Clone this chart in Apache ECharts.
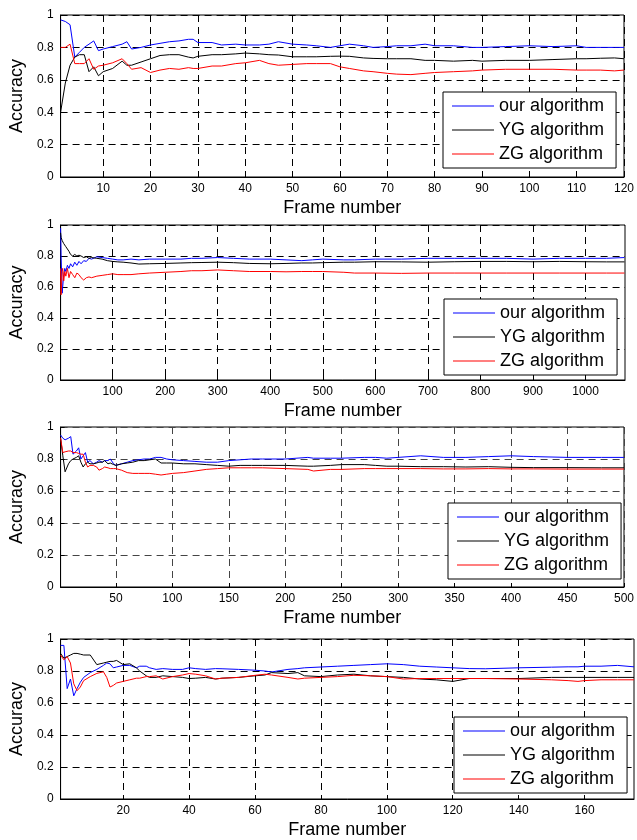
<!DOCTYPE html>
<html>
<head>
<meta charset="utf-8">
<script src="https://cdn.jsdelivr.net/npm/echarts@6/dist/echarts.min.js"></script>
<style>
  html, body { margin: 0; padding: 0; background: #fff; }
  #chart { width: 637px; height: 840px; }
</style>
</head>
<body>
<div id="chart"></div>
<script>
// series names
const seriesNames = ["our algorithm", "YG algorithm", "ZG algorithm"];
const yTicks = [0, 0.2, 0.4, 0.6, 0.8, 1];

// panel 1 : 120 frames
const p1Frames = [1, 2, 3, 4, 5, 6, 7, 8, 9, 10, 12, 14, 15, 16, 18, 20, 22, 24, 26, 28, 29, 30, 33, 35, 38, 40, 43, 45, 47, 50, 53, 55, 58, 60, 62, 65, 67, 70, 72, 75, 78, 80, 84, 88, 90, 95, 100, 105, 110, 112, 115, 118, 120];
const p1Ours = [0.97, 0.96, 0.94, 0.74, 0.77, 0.80, 0.82, 0.84, 0.78, 0.79, 0.805, 0.82, 0.835, 0.79, 0.80, 0.815, 0.825, 0.835, 0.84, 0.85, 0.85, 0.83, 0.83, 0.815, 0.82, 0.815, 0.815, 0.82, 0.835, 0.82, 0.815, 0.81, 0.80, 0.81, 0.82, 0.81, 0.80, 0.805, 0.81, 0.81, 0.82, 0.81, 0.81, 0.80, 0.80, 0.805, 0.81, 0.805, 0.81, 0.80, 0.80, 0.80, 0.80];
const p1YG = [0.40, 0.58, 0.69, 0.74, 0.755, 0.755, 0.65, 0.68, 0.625, 0.65, 0.67, 0.715, 0.69, 0.69, 0.71, 0.73, 0.75, 0.755, 0.755, 0.74, 0.735, 0.745, 0.755, 0.755, 0.76, 0.765, 0.76, 0.755, 0.753, 0.742, 0.742, 0.742, 0.745, 0.746, 0.745, 0.735, 0.732, 0.73, 0.73, 0.73, 0.72, 0.72, 0.715, 0.72, 0.715, 0.72, 0.72, 0.725, 0.73, 0.73, 0.733, 0.735, 0.73];
const p1ZG = [0.80, 0.80, 0.82, 0.70, 0.70, 0.70, 0.73, 0.665, 0.685, 0.69, 0.705, 0.73, 0.70, 0.665, 0.675, 0.645, 0.66, 0.67, 0.665, 0.675, 0.67, 0.67, 0.685, 0.685, 0.70, 0.705, 0.72, 0.70, 0.69, 0.695, 0.70, 0.70, 0.70, 0.68, 0.67, 0.655, 0.65, 0.64, 0.635, 0.632, 0.64, 0.645, 0.65, 0.655, 0.66, 0.665, 0.665, 0.665, 0.66, 0.66, 0.66, 0.655, 0.66];
const p1XTicks = [10, 20, 30, 40, 50, 60, 70, 80, 90, 100, 110, 120];

// panel 2 : 1074 frames
const p2Frames = [1, 2, 4, 5, 7, 9, 11, 14, 17, 20, 24, 28, 32, 36, 40, 45, 50, 55, 60, 70, 80, 90, 100, 110, 120, 135, 150, 170, 200, 230, 250, 270, 300, 330, 360, 400, 430, 460, 480, 500, 540, 560, 600, 650, 700, 750, 800, 850, 900, 950, 1000, 1040, 1074];
const p2Ours = [0.98, 0.80, 0.56, 0.55, 0.68, 0.72, 0.70, 0.74, 0.72, 0.75, 0.73, 0.76, 0.74, 0.765, 0.75, 0.77, 0.765, 0.785, 0.78, 0.795, 0.79, 0.785, 0.78, 0.775, 0.775, 0.78, 0.775, 0.78, 0.78, 0.78, 0.785, 0.785, 0.79, 0.785, 0.78, 0.78, 0.775, 0.77, 0.775, 0.78, 0.775, 0.775, 0.78, 0.78, 0.785, 0.785, 0.785, 0.785, 0.78, 0.785, 0.785, 0.785, 0.79];
const p2YG = [0.95, 0.92, 0.90, 0.89, 0.88, 0.87, 0.86, 0.85, 0.83, 0.81, 0.80, 0.81, 0.80, 0.805, 0.80, 0.79, 0.795, 0.785, 0.79, 0.785, 0.78, 0.77, 0.765, 0.762, 0.76, 0.755, 0.748, 0.75, 0.752, 0.755, 0.757, 0.758, 0.76, 0.757, 0.752, 0.75, 0.752, 0.755, 0.755, 0.757, 0.76, 0.76, 0.763, 0.762, 0.76, 0.763, 0.765, 0.765, 0.763, 0.765, 0.763, 0.762, 0.762];
const p2ZG = [0.72, 0.55, 0.70, 0.72, 0.64, 0.70, 0.67, 0.72, 0.66, 0.70, 0.68, 0.66, 0.69, 0.68, 0.66, 0.645, 0.66, 0.665, 0.66, 0.67, 0.675, 0.68, 0.685, 0.68, 0.68, 0.68, 0.685, 0.69, 0.695, 0.70, 0.705, 0.705, 0.71, 0.705, 0.70, 0.70, 0.698, 0.70, 0.70, 0.70, 0.695, 0.69, 0.69, 0.688, 0.69, 0.69, 0.69, 0.69, 0.69, 0.69, 0.69, 0.69, 0.69];
const p2XTicks = [100, 200, 300, 400, 500, 600, 700, 800, 900, 1000];

// panel 3 : 500 frames
const p3Frames = [1, 3, 5, 8, 10, 12, 15, 17, 19, 21, 23, 25, 27, 30, 33, 35, 38, 40, 43, 45, 48, 50, 55, 60, 65, 70, 75, 80, 85, 90, 95, 100, 110, 120, 130, 140, 150, 160, 170, 180, 200, 220, 225, 240, 250, 270, 280, 290, 300, 320, 340, 360, 380, 400, 420, 450, 480, 500];
const p3Ours = [0.95, 0.93, 0.92, 0.93, 0.94, 0.83, 0.85, 0.87, 0.80, 0.82, 0.84, 0.78, 0.79, 0.77, 0.78, 0.79, 0.78, 0.79, 0.79, 0.80, 0.77, 0.76, 0.77, 0.78, 0.79, 0.795, 0.80, 0.80, 0.81, 0.81, 0.80, 0.795, 0.79, 0.785, 0.78, 0.78, 0.79, 0.795, 0.80, 0.80, 0.80, 0.81, 0.805, 0.805, 0.805, 0.81, 0.81, 0.805, 0.81, 0.82, 0.81, 0.81, 0.815, 0.82, 0.815, 0.81, 0.81, 0.81];
const p3YG = [0.93, 0.82, 0.72, 0.77, 0.79, 0.80, 0.81, 0.82, 0.78, 0.75, 0.77, 0.78, 0.77, 0.77, 0.775, 0.78, 0.78, 0.79, 0.77, 0.775, 0.765, 0.76, 0.77, 0.775, 0.78, 0.79, 0.79, 0.795, 0.80, 0.775, 0.775, 0.775, 0.77, 0.77, 0.765, 0.76, 0.755, 0.76, 0.76, 0.76, 0.76, 0.755, 0.755, 0.76, 0.765, 0.765, 0.76, 0.755, 0.755, 0.752, 0.752, 0.75, 0.752, 0.748, 0.746, 0.746, 0.745, 0.745];
const p3ZG = [0.93, 0.84, 0.845, 0.85, 0.85, 0.84, 0.84, 0.835, 0.83, 0.83, 0.78, 0.75, 0.76, 0.76, 0.75, 0.73, 0.74, 0.75, 0.745, 0.74, 0.74, 0.74, 0.73, 0.715, 0.71, 0.71, 0.71, 0.71, 0.705, 0.70, 0.705, 0.71, 0.715, 0.725, 0.735, 0.74, 0.745, 0.745, 0.745, 0.745, 0.74, 0.735, 0.725, 0.735, 0.735, 0.74, 0.74, 0.74, 0.74, 0.74, 0.738, 0.738, 0.74, 0.738, 0.738, 0.737, 0.737, 0.737];
const p3XTicks = [50, 100, 150, 200, 250, 300, 350, 400, 450, 500];

// panel 4 : 175 frames
const p4Frames = [1, 2, 3, 4, 5, 6, 7, 8, 10, 12, 14, 15, 16, 17, 18, 20, 22, 24, 25, 27, 28, 30, 32, 35, 38, 40, 42, 45, 48, 50, 55, 60, 63, 65, 70, 73, 75, 80, 85, 90, 95, 100, 105, 110, 115, 120, 125, 130, 140, 150, 155, 158, 160, 165, 170, 175];
const p4Ours = [0.96, 0.96, 0.69, 0.75, 0.645, 0.69, 0.73, 0.76, 0.79, 0.81, 0.835, 0.85, 0.845, 0.82, 0.825, 0.835, 0.835, 0.82, 0.83, 0.83, 0.82, 0.81, 0.815, 0.81, 0.81, 0.82, 0.815, 0.81, 0.815, 0.814, 0.81, 0.805, 0.80, 0.794, 0.81, 0.815, 0.82, 0.825, 0.83, 0.835, 0.84, 0.845, 0.84, 0.83, 0.825, 0.82, 0.815, 0.814, 0.82, 0.824, 0.826, 0.826, 0.83, 0.83, 0.835, 0.826];
const p4YG = [0.91, 0.88, 0.89, 0.90, 0.91, 0.91, 0.905, 0.90, 0.90, 0.84, 0.85, 0.855, 0.86, 0.86, 0.866, 0.84, 0.845, 0.82, 0.80, 0.77, 0.76, 0.76, 0.77, 0.765, 0.76, 0.753, 0.755, 0.76, 0.75, 0.755, 0.76, 0.77, 0.775, 0.79, 0.784, 0.79, 0.77, 0.765, 0.775, 0.78, 0.77, 0.765, 0.76, 0.75, 0.745, 0.735, 0.753, 0.753, 0.753, 0.76, 0.76, 0.76, 0.76, 0.76, 0.76, 0.76];
const p4ZG = [0.90, 0.87, 0.89, 0.85, 0.72, 0.677, 0.70, 0.74, 0.765, 0.785, 0.795, 0.76, 0.70, 0.71, 0.725, 0.735, 0.745, 0.755, 0.755, 0.765, 0.765, 0.77, 0.75, 0.765, 0.775, 0.784, 0.78, 0.77, 0.75, 0.755, 0.76, 0.773, 0.78, 0.775, 0.76, 0.75, 0.755, 0.76, 0.765, 0.773, 0.77, 0.765, 0.75, 0.753, 0.753, 0.753, 0.753, 0.753, 0.75, 0.745, 0.74, 0.735, 0.74, 0.745, 0.745, 0.745];
const p4XTicks = [20, 40, 60, 80, 100, 120, 140, 160];

const panels = [
    { frames: p1Frames, values: [p1Ours, p1YG, p1ZG], ticks: p1XTicks, xMin: 1, xMax: 120 },
    { frames: p2Frames, values: [p2Ours, p2YG, p2ZG], ticks: p2XTicks, xMin: 1, xMax: 1075 },
    { frames: p3Frames, values: [p3Ours, p3YG, p3ZG], ticks: p3XTicks, xMin: 1, xMax: 500 },
    { frames: p4Frames, values: [p4Ours, p4YG, p4ZG], ticks: p4XTicks, xMin: 1, xMax: 175 }
];

// layout of each subplot (pixels)
const gridBoxes = [
    { left: 58, top: 15, width: 566, height: 162 },
    { left: 56, top: 225, width: 569, height: 155 },
    { left: 59, top: 427, width: 567, height: 160 },
    { left: 58, top: 639, width: 576, height: 163 }
];
const legendBoxes = [
    { left: 443, top: 92 },
    { left: 444, top: 299 },
    { left: 448, top: 503 },
    { left: 454, top: 717 }
];
const gridDash = [
    { color: "#000", dash: [7, 5] },
    { color: "#000", dash: [7, 5] },
    { color: "#444", dash: [7, 5] },
    { color: "#000", dash: [7, 5] }
];
const lineColors = ["#0000ff", "#000000", "#ff0000"];
const FONT = "Liberation Sans";

const chart = echarts.init(document.getElementById("chart"), null, { renderer: "canvas" });

const grid = [], xAxis = [], yAxis = [], legend = [], series = [];

panels.forEach((p, i) => {
    grid.push({
        ...gridBoxes[i],
        show: true,
        borderColor: "#000",
        borderWidth: 1,
        backgroundColor: "#fff"
    });

    const splitStyle = { show: true, lineStyle: { color: gridDash[i].color, type: gridDash[i].dash, width: 1 } };

    xAxis.push({
        gridIndex: i,
        type: "value",
        min: p.xMin,
        max: p.xMax,
        name: "Frame number",
        nameLocation: "middle",
        nameGap: 22,
        nameTextStyle: { color: "#000", fontSize: 18, fontFamily: FONT },
        axisLine: { show: true, lineStyle: { color: "#000", width: 1 } },
        axisTick: { show: true, inside: true, length: 4, customValues: p.ticks, lineStyle: { color: "#000" } },
        axisLabel: {
            customValues: p.ticks,
            formatter: (v) => String(v),
            color: "#000", fontSize: 12, fontFamily: FONT, margin: 6
        },
        splitLine: splitStyle
    });

    yAxis.push({
        gridIndex: i,
        type: "value",
        min: 0,
        max: 1,
        interval: 0.2,
        name: "Accuracy",
        nameLocation: "middle",
        nameGap: 31,
        nameTextStyle: { color: "#000", fontSize: 18, fontFamily: FONT },
        axisLine: { show: true, lineStyle: { color: "#000", width: 1 } },
        axisTick: { show: true, inside: true, length: 4, lineStyle: { color: "#000" } },
        axisLabel: { color: "#000", fontSize: 12, fontFamily: FONT, margin: 7 },
        splitLine: splitStyle
    });

    // legend: plain line samples, no markers
    legend.push({
        ...legendBoxes[i],
        orient: "vertical",
        data: seriesNames.map((n) => ({ name: n, icon: "rect" })),
        backgroundColor: "#fff",
        borderColor: "#000",
        borderWidth: 1,
        borderRadius: 0,
        padding: [5, 12, 5, 9],
        itemGap: 6,
        itemWidth: 42,
        itemHeight: 1.2,
        textStyle: { color: "#000", fontSize: 18, fontFamily: FONT },
        selectedMode: false
    });

    seriesNames.forEach((name, k) => {
        series.push({
            name: name,
            type: "line",
            xAxisIndex: i,
            yAxisIndex: i,
            symbol: "none",
            data: p.frames.map((f, j) => [f, p.values[k][j]]),
            lineStyle: { color: lineColors[k], width: 1 },
            itemStyle: { color: lineColors[k] },
            z: 3
        });
    });
});

chart.setOption({
    animation: false,
    backgroundColor: "#fff",
    grid: grid,
    xAxis: xAxis,
    yAxis: yAxis,
    legend: legend,
    series: series
});
</script>
</body>
</html>
